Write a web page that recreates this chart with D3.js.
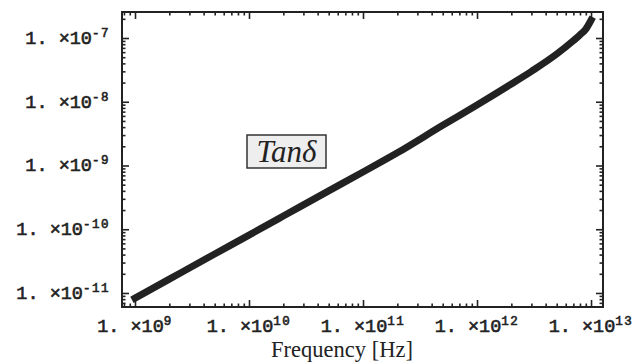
<!DOCTYPE html>
<html>
<head>
<meta charset="utf-8">
<script src="https://cdn.jsdelivr.net/npm/d3@7"></script>
<style>
  body { margin: 0; background: #fff; }
  .tick-label { font-family: "Liberation Mono", "DejaVu Sans Mono", monospace; fill: #222; stroke: #222; stroke-width: 0.6px; }
</style>
</head>
<body>
<svg class="chart"></svg>
<script>
// data
var freq = [1e9, 2e9, 5e9, 1e10, 2e10, 5e10, 1e11, 2e11, 5e11, 1e12, 2e12, 3e12, 5e12, 7e12, 8e12, 9e12, 1e13];
var tanDelta = [8.3e-12, 1.65e-11, 4.09e-11, 8.1e-11, 1.61e-10, 4.0e-10, 7.9e-10, 1.58e-9, 4.27e-9, 8.9e-9, 1.9e-8, 3.0e-8, 5.6e-8, 9.1e-8, 1.12e-7, 1.38e-7, 1.9e-7];
var xTickExp = [9, 10, 11, 12, 13];
var yTickExp = [-7, -8, -9, -10, -11];

function show() {
    'use strict';
    var width = 639, height = 364;
    var frame = {left: 122, right: 603, top: 12, bottom: 307};

    var svg = d3.select(".chart")
        .attr("width", width)
        .attr("height", height);

    var x = d3.scaleLog()
        .domain([Math.pow(10, 8.886), Math.pow(10, 13.105)])
        .range([frame.left, frame.right]);
    var y = d3.scaleLog()
        .domain([Math.pow(10, -11.22), Math.pow(10, -6.592)])
        .range([frame.bottom, frame.top]);

    // major and minor tick values inside the domain
    function logTicks(scale) {
        var d = scale.domain(), lo = Math.floor(Math.log10(d[0])), hi = Math.ceil(Math.log10(d[1]));
        var major = [], minor = [];
        for (var e = lo; e <= hi; e++) {
            for (var m = 1; m < 10; m++) {
                var v = m * Math.pow(10, e);
                if (v < d[0] || v > d[1]) continue;
                if (m === 1) major.push(v); else minor.push(v);
            }
        }
        return {major: major, minor: minor};
    }
    var xt = logTicks(x), yt = logTicks(y);

    function drawTicks(axisFn, scale, vals, size, transform) {
        var g = svg.append("g")
            .attr("transform", transform)
            .call(axisFn(scale).tickValues(vals).tickSize(size).tickFormat(""));
        g.select(".domain").remove();
        g.selectAll("line").attr("stroke", "#222").attr("stroke-width", 1.6);
    }
    // ticks point inward on all four sides
    drawTicks(d3.axisTop, x, xt.major, 7, "translate(0," + frame.bottom + ")");
    drawTicks(d3.axisTop, x, xt.minor, 3.5, "translate(0," + frame.bottom + ")");
    drawTicks(d3.axisBottom, x, xt.major, 7, "translate(0," + frame.top + ")");
    drawTicks(d3.axisBottom, x, xt.minor, 3.5, "translate(0," + frame.top + ")");
    drawTicks(d3.axisRight, y, yt.major, 7, "translate(" + frame.left + ",0)");
    drawTicks(d3.axisRight, y, yt.minor, 3.5, "translate(" + frame.left + ",0)");
    drawTicks(d3.axisLeft, y, yt.major, 7, "translate(" + frame.right + ",0)");
    drawTicks(d3.axisLeft, y, yt.minor, 3.5, "translate(" + frame.right + ",0)");

    // the curve
    var line = d3.line()
        .x(function(d, i) { return x(freq[i]); })
        .y(function(d) { return y(d); })
        .curve(d3.curveMonotoneX);
    svg.append("path")
        .datum(tanDelta)
        .attr("d", line)
        .attr("fill", "none")
        .attr("stroke", "#222")
        .attr("stroke-width", 7)
        .attr("stroke-linecap", "square");

    // frame
    svg.append("rect")
        .attr("x", frame.left).attr("y", frame.top)
        .attr("width", frame.right - frame.left)
        .attr("height", frame.bottom - frame.top)
        .attr("fill", "none").attr("stroke", "#222").attr("stroke-width", 2);

    function powLabel(sel, exp) {
        sel.append("tspan").text("1. \u00d710").attr("font-size", 18.5);
        sel.append("tspan").text(String(exp)).attr("font-size", 12.5)
            .attr("dy", -7).attr("letter-spacing", 1.5);
    }

    // x labels
    xTickExp.forEach(function(e) {
        svg.append("text").attr("class", "tick-label")
            .attr("x", x(Math.pow(10, e))).attr("y", 332)
            .attr("text-anchor", "middle")
            .call(powLabel, e);
    });
    // y labels
    yTickExp.forEach(function(e) {
        svg.append("text").attr("class", "tick-label")
            .attr("x", 110).attr("y", y(Math.pow(10, e)) + 6)
            .attr("text-anchor", "end")
            .call(powLabel, e);
    });

    svg.append("text")
        .attr("x", 342).attr("y", 357)
        .attr("text-anchor", "middle")
        .attr("font-family", "'Liberation Serif', 'Times New Roman', serif")
        .attr("font-size", 22.5).attr("fill", "#222")
        .text("Frequency [Hz]");

    // Tan delta label box
    svg.append("rect")
        .attr("x", 247).attr("y", 135).attr("width", 79).attr("height", 33)
        .attr("fill", "#eeeeee").attr("stroke", "#333").attr("stroke-width", 1.5);
    svg.append("text")
        .attr("x", 286.5).attr("y", 162)
        .attr("text-anchor", "middle")
        .attr("font-family", "'Liberation Serif', 'Times New Roman', serif")
        .attr("font-style", "italic")
        .attr("font-size", 31).attr("fill", "#222")
        .text("Tan\u03b4");
}
show();
</script>
</body>
</html>
